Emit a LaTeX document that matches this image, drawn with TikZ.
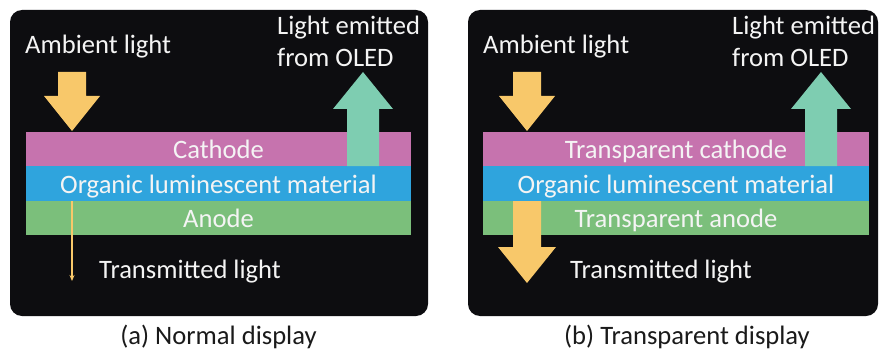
\documentclass[tikz,border=0pt]{standalone}
\usepackage{fontspec}
\setmainfont{Carlito}
\usetikzlibrary{arrows.meta}
\definecolor{panelbg}{HTML}{0D0D10}
\definecolor{cathodec}{HTML}{C673AE}
\definecolor{organicc}{HTML}{2FA4DD}
\definecolor{anodec}{HTML}{7BBF7B}
\definecolor{ambientc}{HTML}{F8C86A}
\definecolor{emitc}{HTML}{7ECDB1}
\definecolor{captionc}{HTML}{1A1A1A}
\definecolor{lbltext}{HTML}{F4F4F4}
\begin{document}
\begin{tikzpicture}[x=1pt,y=-1pt,
  lbl/.style={text=lbltext, font=\fontsize{26.6}{31}\selectfont, inner sep=0pt},
  captext/.style={text=captionc, font=\fontsize{26.6}{31}\selectfont, inner sep=0pt},
  panel/.style={fill=panelbg, rounded corners=12pt},
  ambarrow/.style={fill=ambientc},
  emitarrow/.style={fill=emitc}]
\useasboundingbox[fill=white] (0,0) rectangle (880,350);

% ---------- panel (a) ----------
\fill[panel] (10,10) rectangle (428,316);
\fill[cathodec] (26,132) rectangle (411,166);
\fill[organicc] (26,166) rectangle (411,201);
\fill[anodec] (26,201) rectangle (411,235);

\fill[ambarrow] (58,72) -- (86,72) -- (86,96) -- (100,96) -- (72,131) -- (44,96) -- (58,96) -- cycle;
\fill[emitarrow] (347,166) -- (347,109) -- (333,109) -- (363,72) -- (393,109) -- (379,109) -- (379,166) -- cycle;
\coordinate (tA1) at (72,201);
\coordinate (tA2) at (72,281);
\draw[ambientc, line width=1.6pt, -{Stealth[length=6pt,width=5pt]}] (tA1) -- (tA2);

\node[lbl, anchor=base west] (ambA) at (25,54) {Ambient light};
\node[lbl, anchor=base west] (emA1) at (277,35) {Light emitted};
\node[lbl, anchor=base west] (emA2) at (277,67) {from OLED};
\node[lbl, anchor=base] (catA) at (218.5,158) {Cathode};
\node[lbl, anchor=base] (orgA) at (218.5,193) {Organic luminescent material};
\node[lbl, anchor=base] (anoA) at (218.5,227) {Anode};
\node[lbl, anchor=base west] (trA) at (99,278) {Transmitted light};
\node[captext, anchor=base] (capA) at (218.5,344) {(a) Normal display};

% ---------- panel (b) ----------
\fill[panel] (468,10) rectangle (878,316);
\fill[cathodec] (483,132) rectangle (869,166);
\fill[organicc] (483,166) rectangle (869,201);
\fill[anodec] (483,201) rectangle (869,235);

\fill[ambarrow] (513,72) -- (541,72) -- (541,96) -- (555,96) -- (527,131) -- (499,96) -- (513,96) -- cycle;
\fill[emitarrow] (805,166) -- (805,109) -- (791,109) -- (821,72) -- (851,109) -- (837,109) -- (837,166) -- cycle;
\fill[ambarrow] (513,201) -- (541,201) -- (541,247) -- (556,247) -- (527,283) -- (498,247) -- (513,247) -- cycle;

\node[lbl, anchor=base west] (ambB) at (483,54) {Ambient light};
\node[lbl, anchor=base west] (emB1) at (732,35) {Light emitted};
\node[lbl, anchor=base west] (emB2) at (732,67) {from OLED};
\node[lbl, anchor=base] (catB) at (676,158) {Transparent cathode};
\node[lbl, anchor=base] (orgB) at (676,193) {Organic luminescent material};
\node[lbl, anchor=base] (anoB) at (676,227) {Transparent anode};
\node[lbl, anchor=base west] (trB) at (570,278) {Transmitted light};
\node[captext, anchor=base] (capB) at (687,344) {(b) Transparent display};
\end{tikzpicture}
\end{document}
